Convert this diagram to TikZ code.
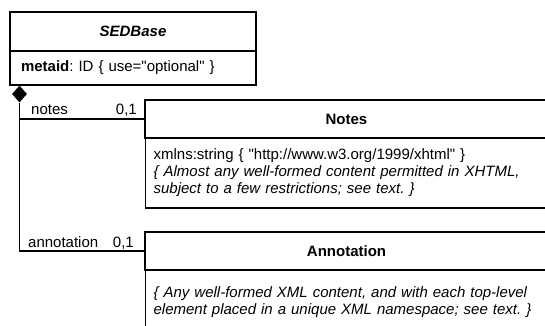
\documentclass[tikz,border=0pt]{standalone}
\usepackage{fontspec}
\setmainfont{Liberation Sans}[Ligatures=TeXOff]
\usetikzlibrary{shapes.geometric}
\frenchspacing

\begin{document}
\begin{tikzpicture}[x=1pt,y=-1pt]
    \tikzstyle{txt}=[font=\fontsize{15}{17}\selectfont]
    \tikzstyle{head}=[rectangle,draw=black,line width=1.2pt,inner sep=0pt,font=\fontsize{15}{17}\selectfont\bfseries]
    \tikzstyle{body}=[txt,rectangle,draw=black,line width=1.2pt,inner ysep=0pt,align=left]
    \tikzstyle{rolelabel}=[txt,inner sep=0pt]
    \tikzstyle{assoc}=[draw,line width=1.2pt]
    \useasboundingbox (0,0) rectangle (545,325);
    \clip (0,0) rectangle (545,325);
    \begin{scope}
        % SEDBase class
        \node [head,minimum width=246pt,minimum height=39pt] (sedHead) at (133,31.5) {\itshape SEDBase};
        \node [body,minimum width=246pt,minimum height=34pt,text width=224pt,inner xsep=11pt] (sedBody) at (133,68) {\textbf{metaid}: ID \{ use="optional" \}};
        \node [shape=diamond,fill=black,inner sep=0pt,minimum width=15pt,minimum height=17pt] (comp) at (19.5,94) {};
        % Notes class
        \node [head,minimum width=403pt,minimum height=38pt] (notesHead) at (346.5,119) {Notes};
        \node [body,anchor=west,minimum height=70pt,text width=392pt,inner xsep=8pt] (notesBody) at (145,173) {xmlns:string \{ "http://www.w3.org/1999/xhtml" \}\\
            \textit{\{ Almost any well-formed content permitted in XHTML,}\\
            \textit{subject to a few restrictions; see text. \}}};
        % Annotation class
        \node [head,minimum width=403pt,minimum height=38pt] (annHead) at (346.5,251) {Annotation};
        \node [body,anchor=west,minimum height=64pt,text width=392pt,inner xsep=8pt] (annBody) at (145,302) {\textit{\{ Any well-formed XML content, and with each top-level}\\
            \textit{element placed in a unique XML namespace; see text. \}}};
        % composition links
        \path[assoc] (comp.south) |- (notesHead.west);
        \path[assoc] (comp.south) |- (annHead.west);
        \node [rolelabel,anchor=base west] (notesRole) at (31,114.5) {notes};
        \node [rolelabel,anchor=base east] (notesMult) at (137,114.5) {0,1};
        \node [rolelabel,anchor=base west] (annRole) at (28,247.5) {annotation};
        \node [rolelabel,anchor=base east] (annMult) at (134,247.5) {0,1};
    \end{scope}
\end{tikzpicture}
\end{document}
